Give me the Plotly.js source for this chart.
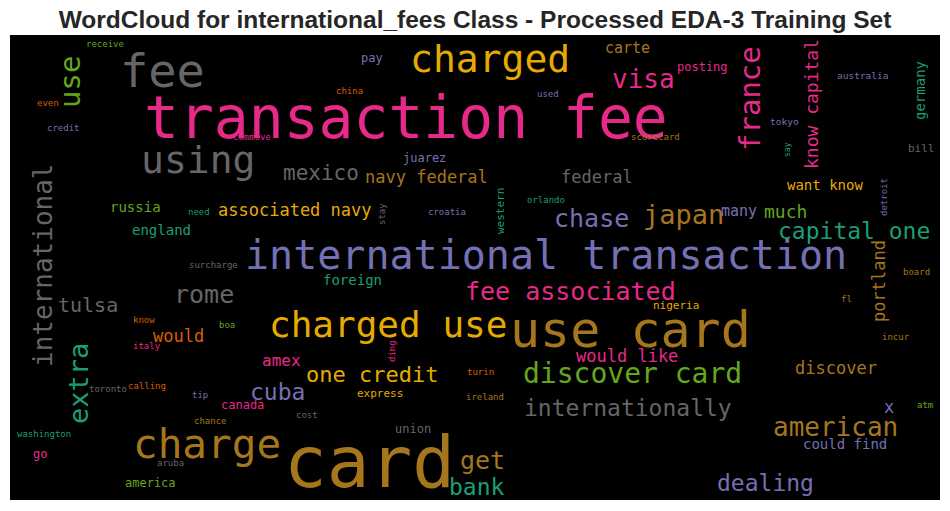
<!DOCTYPE html>
<html>
<head>
<meta charset="utf-8">
<script src="https://cdn.plot.ly/plotly-3.0.1.min.js"></script>
<style>html,body{margin:0;padding:0;background:#fff;}#chart{width:950px;height:511px;}</style>
</head>
<body>
<div id="chart"></div>
<script>
// Words of the cloud and their relative weights (font size, px)
const words = ["transaction fee","card","international transaction","use card","fee","charged","using","charge","charged use","international",
"use","france","know capital","germany","visa","carte","posting","australia","tokyo","scorecard",
"say","bill","want know","detroit","mexico","navy federal","federal","juarez","pay","china",
"used","receive","even","credit","commove","russia","need","associated navy","england","surcharge",
"rome","tulsa","know","would","boa","italy","extra","toronto","calling","amex",
"cuba","tip","canada","chance","cost","washington","go","aruba","america","ding",
"one credit","express","turin","ireland","union","get","bank","would like","discover card","internationally",
"discover","x","atm","american","could find","dealing","japan","chase","many","much",
"capital one","portland","board","fl","nigeria","incur","fee associated","foreign","stay","croatia",
"western","orlando"];
const weights = [58,71,40,50,47,38,38,41,36,26,
29,29,18,14,26,15,12,9.5,9.5,9,
8,11,14,9,21,17,17,12,12,9,
9,9,9,9,9,14,9,17,14,9,
25,20,9,17,9,9,27,9,9,16,
23,9,12,9,9,9,12,9,12,9,
22,11,9,9,12,25,23,17,28,23,
17,17,9,26,14,23,27,25,15,18,
23,17,9,9,11,9,25,14,9,9,
11,9];

// Layout of the cloud (pixel positions inside the image) and styling
const posX = [406,369,546,630,162,490,198,207,388,43,
70,750,811,920,643,627,702,862,784,655,
787,921,825,884,321,426,597,424,372,349,
548,105,48,63,252,135,199,295,161,213,
204,88,144,178,227,147,78,108,147,281,
277,200,242,210,307,44,40,170,150,392,
372,380,480,485,413,482,477,627,632,628,
836,889,925,835,845,765,683,591,739,785,
854,879,916,846,676,896,570,352,382,447,
500,546];
const posY = [118,462,255,330,70,59,160,444,324,265,
82,99,104,91,79,48,67,75,121,137,
150,148,185,197,173,177,177,158,58,91,
94,44,103,128,137,207,212,210,230,265,
294,305,320,336,325,346,384,389,386,360,
392,395,405,421,415,434,454,463,483,351,
374,393,372,397,429,460,487,356,373,408,
368,407,405,427,444,483,214,218,211,211,
231,281,272,299,305,337,291,280,214,212,
211,200];
const vertical = ["international","use","france","know capital","germany","say","detroit","extra","ding","portland","stay","western"];
const P = {teal:"#1b9e77",orange:"#d95f02",purple:"#7570b3",pink:"#e7298a",green:"#66a61e",yellow:"#e6ab02",brown:"#a6761d",gray:"#666666"};
const wordColor = ["pink","brown","purple","brown","gray","yellow","gray","brown","yellow","gray",
"green","pink","pink","teal","pink","brown","pink","purple","purple","brown",
"teal","gray","yellow","purple","gray","brown","gray","purple","purple","orange",
"purple","green","orange","purple","pink","green","teal","yellow","teal","gray",
"gray","gray","orange","orange","green","pink","teal","gray","orange","pink",
"purple","purple","pink","brown","gray","teal","pink","gray","green","pink",
"yellow","yellow","orange","brown","gray","brown","teal","pink","green","gray",
"brown","purple","green","brown","purple","purple","brown","purple","purple","green",
"teal","brown","brown","brown","yellow","brown","pink","teal","gray","purple",
"teal","teal"];

const annotations = words.map((w, i) => ({
  x: posX[i], y: posY[i], xref: "x", yref: "y",
  text: w, showarrow: false, xanchor: "center", yanchor: "middle", borderpad: 0,
  textangle: vertical.includes(w) ? -90 : 0,
  font: {family: "DejaVu Sans Mono", size: weights[i], color: P[wordColor[i]]}
}));

const layout = {
  width: 950, height: 511,
  margin: {l: 10, r: 10, t: 35, b: 11, pad: 0},
  paper_bgcolor: "#ffffff", plot_bgcolor: "#000000",
  showlegend: false,
  title: {text: "<b>WordCloud for international_fees Class - Processed EDA-3 Training Set</b>",
          x: 0.5, xanchor: "center", y: 1 - 19/511, yanchor: "middle", yref: "container",
          font: {family: "Liberation Sans, Arial, sans-serif", size: 24.5, color: "#262626"}},
  xaxis: {range: [10, 940], visible: false, fixedrange: true},
  yaxis: {range: [500, 35], visible: false, fixedrange: true},
  annotations: annotations
};
Plotly.newPlot("chart", [{x: [], y: [], type: "scatter", mode: "markers"}], layout, {displayModeBar: false, staticPlot: true});
</script>
</body>
</html>
